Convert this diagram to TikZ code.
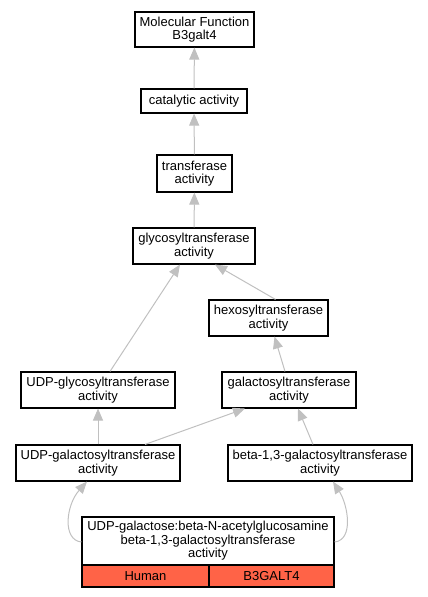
\documentclass[tikz,border=0pt]{standalone}
\usepackage{fontspec}
\setmainfont{Liberation Sans}
\usetikzlibrary{arrows.meta}
\definecolor{edgegray}{HTML}{C0C0C0}
\definecolor{tomatofill}{HTML}{FF6347}
\begin{document}
\begin{tikzpicture}[x=1pt,y=-1pt,
  term/.style={draw=black,line width=1.1pt,fill=white,inner sep=0pt,align=center,font=\fontsize{13}{13.5}\selectfont},
  rowcell/.style={draw=black,line width=1.1pt,fill=tomatofill,inner sep=0pt,align=center,font=\fontsize{13}{13.5}\selectfont,minimum height=22pt},
  isa/.style={draw=edgegray,line width=1pt,-{Triangle[length=12pt,width=10pt,fill=edgegray]}}]
\useasboundingbox (0,0) rectangle (428,597);
\node[term,minimum width=119pt,minimum height=35pt] (mf) at (194.5,29.5) {Molecular Function\\B3galt4};
\node[term,minimum width=106pt,minimum height=24pt] (cat) at (194,101) {catalytic activity};
\node[term,minimum width=75pt,minimum height=37pt] (tr) at (194.5,173.5) {transferase\\activity};
\node[term,minimum width=122pt,minimum height=36pt] (gly) at (194,246) {glycosyltransferase\\activity};
\node[term,minimum width=119pt,minimum height=36pt] (hex) at (268.5,318) {hexosyltransferase\\activity};
\node[term,minimum width=154pt,minimum height=36pt] (udpgly) at (98,390) {UDP-glycosyltransferase\\activity};
\node[term,minimum width=134pt,minimum height=36pt] (gal) at (289,390) {galactosyltransferase\\activity};
\node[term,minimum width=164pt,minimum height=36pt] (udpgal) at (98,463) {UDP-galactosyltransferase\\activity};
\node[term,minimum width=184pt,minimum height=36pt] (b13) at (320,463) {beta-1,3-galactosyltransferase\\activity};
\node[term,minimum width=252pt,minimum height=48pt] (bot) at (208,541) {UDP-galactose:beta-N-acetylglucosamine\\beta-1,3-galactosyltransferase\\activity};
\node[rowcell,minimum width=127pt] (human) at (145.5,576) {Human};
\node[rowcell,minimum width=125pt] (gene) at (271.5,576) {B3GALT4};
\draw[isa] ([xshift=7pt]hex.north) -- ([xshift=21pt]gly.south);
\draw[isa] (cat) -- (mf);
\draw[isa] (tr) -- (cat);
\draw[isa] (gly) -- (tr);
\draw[isa] ([xshift=12pt]udpgly.north) -- ([xshift=-14pt]gly.south);
\draw[isa] ([xshift=-4pt]gal.north) -- ([xshift=6pt]hex.south);
\draw[isa] (udpgal) -- (udpgly);
\draw[isa] ([xshift=47pt]udpgal.north) -- ([xshift=-44pt]gal.south);
\draw[isa] ([xshift=-7pt]b13.north) -- ([xshift=9pt]gal.south);
\draw[isa] ([yshift=-1pt]bot.west) .. controls (62,540) and (66,505) .. ([xshift=-11pt]udpgal.south);
\draw[isa] ([yshift=-1pt]bot.east) .. controls (354,540) and (348,505) .. ([xshift=13pt]b13.south);
\end{tikzpicture}
\end{document}
